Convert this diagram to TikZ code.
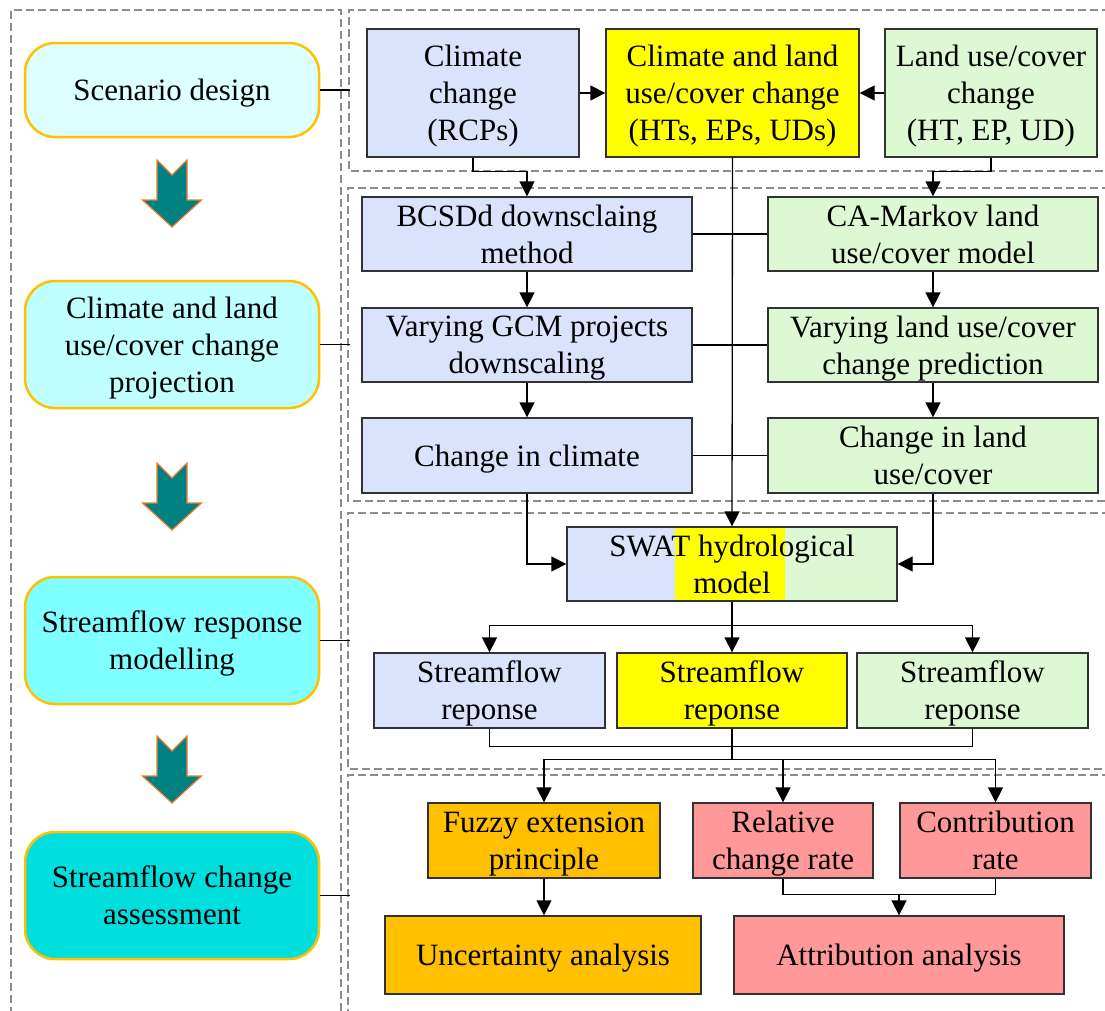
\documentclass[tikz,border=0pt]{standalone}
\usepackage{fontspec}
\setmainfont{Liberation Serif}
\usetikzlibrary{arrows.meta}
\newcommand\bodyfont{\fontsize{31}{37}\selectfont}
\definecolor{blueF}{RGB}{218,226,252}
\definecolor{greenF}{RGB}{220,249,212}
\definecolor{yelF}{RGB}{255,255,0}
\definecolor{oraF}{RGB}{255,192,0}
\definecolor{redF}{RGB}{255,153,153}
\definecolor{scenF}{RGB}{221,255,255}
\definecolor{projF}{RGB}{191,255,255}
\definecolor{srmF}{RGB}{127,255,255}
\definecolor{scaF}{RGB}{0,222,222}
\definecolor{tealF}{RGB}{0,128,128}
\definecolor{tealD}{RGB}{237,125,49}
\definecolor{lborder}{RGB}{255,192,0}
\definecolor{boxline}{RGB}{50,50,50}
\definecolor{dashcol}{RGB}{140,140,140}
\tikzset{
  box/.style={draw=boxline, line width=1.3pt, inner sep=0pt, align=center, font=\bodyfont, text depth=0pt},
  lbox/.style={draw=lborder, line width=2.5pt, rounded corners=30pt, inner sep=0pt, align=center, font=\bodyfont, text depth=0pt, minimum width=294pt},
  conn/.style={draw=black, line width=1.3pt},
  arr/.style={conn, -{Triangle[length=15pt,width=15pt]}},
  panel/.style={draw=dashcol, line width=1.2pt, dash pattern=on 8pt off 4pt},
  tealarr/.pic={\draw[fill=tealF, draw=tealD, line width=1.2pt, line join=miter]
     (-15,0) -- (0,15) -- (15,0) -- (15,40) -- (29.5,40) -- (0,67) -- (-29.5,40) -- (-15,40) -- cycle;}
}
\begin{document}
\begin{tikzpicture}[x=1pt,y=-1pt]
\useasboundingbox (0,0) rectangle (1105,1010);
\fill[white] (0,0) rectangle (1105,1010);
% panels
\draw[panel] (11,1015) -- (11,10) -- (341,10) -- (341,1015);
\draw[panel] (1110,10) -- (349,10) -- (349,171) -- (1110,171);
\draw[panel] (1110,188) -- (348,188) -- (348,501) -- (1110,501);
\draw[panel] (1110,513) -- (348,513) -- (348,769) -- (1110,769);
\draw[panel] (1110,775) -- (348,775) -- (348,1015);
% left column
\node[lbox, fill=scenF, minimum height=94pt] (scen) at (172,90) {Scenario design};
\node[lbox, fill=projF, minimum height=127pt] (proj) at (172,344.5) {Climate and land\\use/cover change\\projection};
\node[lbox, fill=srmF, minimum height=127pt] (srm) at (172,640.5) {Streamflow response\\modelling};
\node[lbox, fill=scaF, minimum height=127pt] (sca) at (172,895.5) {Streamflow change\\assessment};
\pic at (172,160) {tealarr};
\pic at (172,463) {tealarr};
\pic at (172,736) {tealarr};
\draw[conn] (scen.east) -- ++(30,0) coordinate (t1);
\draw[conn] (proj.east) -- ++(30,0) coordinate (t2);
\draw[conn] (srm.east) -- ++(30,0) coordinate (t3);
\draw[conn] (sca.east) -- ++(30,0) coordinate (t4);
% panel 1
\node[box, fill=blueF, minimum width=212pt, minimum height=128pt] (cc) at (473,93) {Climate\\change\\(RCPs)};
\node[box, fill=yelF, minimum width=253pt, minimum height=128pt] (yel) at (732.5,93) {Climate and land\\use/cover change\\(HTs, EPs, UDs)};
\node[box, fill=greenF, minimum width=212pt, minimum height=128pt] (lu) at (991,93) {Land use/cover\\change\\(HT, EP, UD)};
% panel 2
\node[box, fill=blueF, minimum width=330pt, minimum height=74pt] (bcsd) at (527,234) {BCSDd downsclaing\\method};
\node[box, fill=blueF, minimum width=330pt, minimum height=74pt] (gcm) at (527,345) {Varying GCM projects\\downscaling};
\node[box, fill=blueF, minimum width=330pt, minimum height=75pt] (ccl) at (527,455.5) {Change in climate};
\node[box, fill=greenF, minimum width=330pt, minimum height=74pt] (ca) at (933,234) {CA-Markov land\\use/cover model};
\node[box, fill=greenF, minimum width=330pt, minimum height=74pt] (vlu) at (933,345) {Varying land use/cover\\change prediction};
\node[box, fill=greenF, minimum width=330pt, minimum height=75pt] (clu) at (933,455.5) {Change in land\\use/cover};
% panel 3
\fill[blueF] (567,527) rectangle (675,601);
\fill[yelF] (675,527) rectangle (785,601);
\fill[greenF] (785,527) rectangle (897,601);
\node[box, minimum width=330pt, minimum height=74pt] (swat) at (732,564) {SWAT hydrological\\model};
\node[box, fill=blueF, minimum width=231pt, minimum height=75pt] (sfb) at (489.5,690.5) {Streamflow\\reponse};
\node[box, fill=yelF, minimum width=230pt, minimum height=75pt] (sfy) at (732,690.5) {Streamflow\\reponse};
\node[box, fill=greenF, minimum width=231pt, minimum height=75pt] (sfg) at (972.5,690.5) {Streamflow\\reponse};
% panel 4
\node[box, fill=oraF, minimum width=232pt, minimum height=75pt] (fuz) at (544,840.5) {Fuzzy extension\\principle};
\node[box, fill=redF, minimum width=180pt, minimum height=75pt] (rel) at (783,840.5) {Relative\\change rate};
\node[box, fill=redF, minimum width=191pt, minimum height=75pt] (con) at (995.5,840.5) {Contribution\\rate};
\node[box, fill=oraF, minimum width=316pt, minimum height=78pt] (unc) at (543,955) {Uncertainty analysis};
\node[box, fill=redF, minimum width=330pt, minimum height=78pt] (att) at (899,955) {Attribution analysis};
% connectors
\draw[arr] (cc.east) -- (yel.west);
\draw[arr] (lu.west) -- (yel.east);
\draw[arr] (cc.south) -- ++(0,14) -| (bcsd.north);
\draw[arr] (lu.south) -- ++(0,14) -| (ca.north);
\draw[conn] (bcsd.east) -- (ca.west);
\draw[conn] (gcm.east) -- (vlu.west);
\draw[conn] (ccl.east) -- (clu.west);
\draw[arr] (yel.south) -- (swat.north);
\draw[arr] (bcsd.south) -- (gcm.north);
\draw[arr] (gcm.south) -- (ccl.north);
\draw[arr] (ca.south) -- (vlu.north);
\draw[arr] (vlu.south) -- (clu.north);
\draw[arr] (ccl.south) |- (swat.west);
\draw[arr] (clu.south) |- (swat.east);
\draw[conn] (swat.south) -- ++(0,24) coordinate (sp);
\draw[arr] (sp) -| (sfb.north);
\draw[arr] (sp) -| (sfg.north);
\draw[arr] (sp) -- (sfy.north);
\draw[conn] (sfb.south) -- ++(0,18) -| (sfg.south);
\draw[conn] (sfy.south) -- ++(0,31) coordinate (mg);
\draw[arr] (mg) -| (fuz.north);
\draw[arr] (mg) -| (rel.north);
\draw[arr] (mg) -| (con.north);
\draw[arr] (fuz.south) -- (fuz.south |- unc.north);
\draw[conn] (rel.south) -- ++(0,16) coordinate (r1) -| (con.south);
\draw[arr] (r1 -| att.north) -- (att.north);
\end{tikzpicture}
\end{document}
